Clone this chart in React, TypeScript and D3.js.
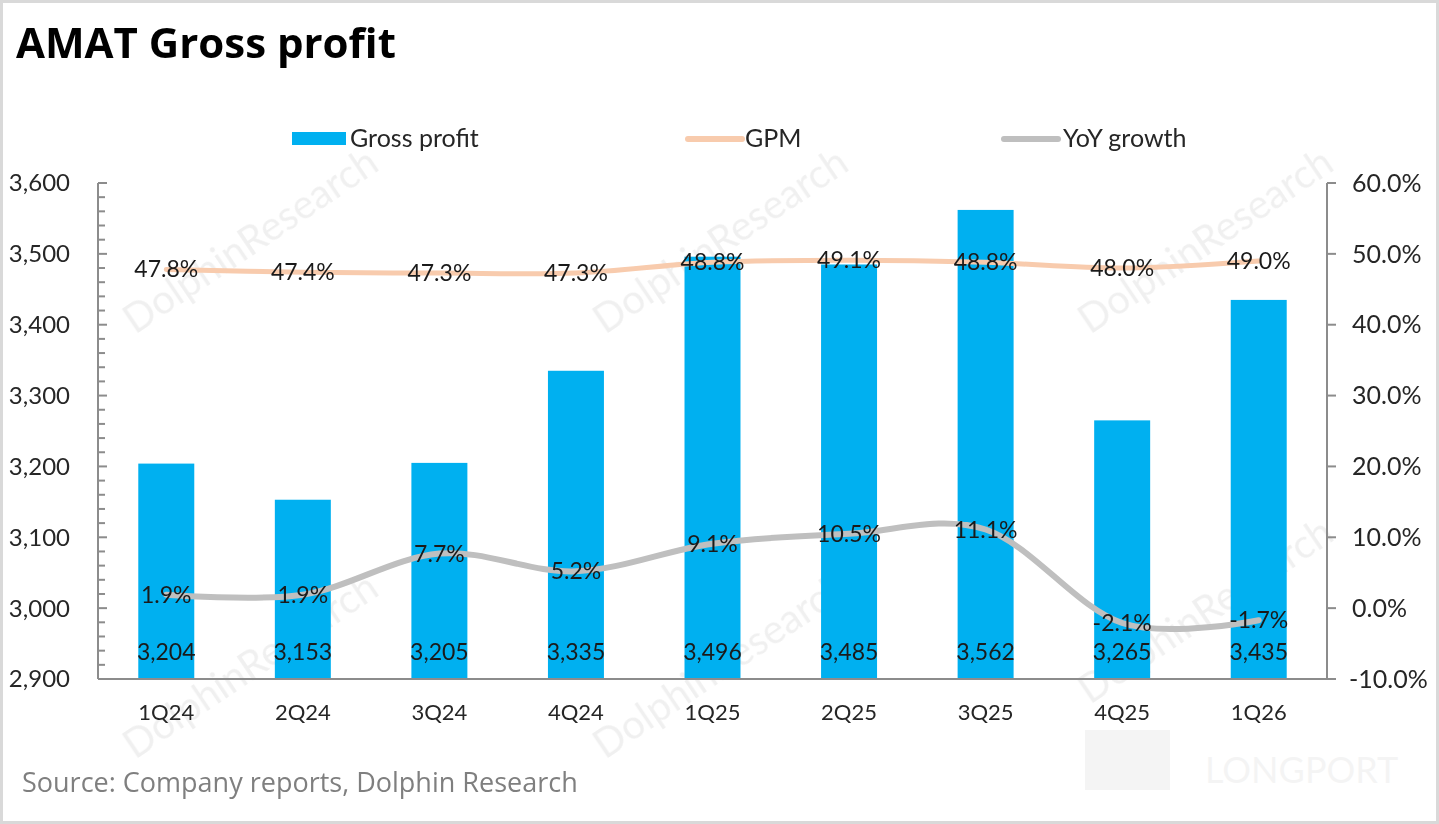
import React, { useEffect, useRef } from "react";
import * as d3 from "d3";

// chart data
const quarters = ["1Q24", "2Q24", "3Q24", "4Q24", "1Q25", "2Q25", "3Q25", "4Q25", "1Q26"];
const grossProfit = [3204, 3153, 3205, 3335, 3496, 3485, 3562, 3265, 3435];
const gpm = [0.478, 0.474, 0.473, 0.473, 0.488, 0.491, 0.488, 0.48, 0.49];
const yoyGrowth = [0.019, 0.019, 0.077, 0.052, 0.091, 0.105, 0.111, -0.021, -0.017];
const leftTicks = [2900, 3000, 3100, 3200, 3300, 3400, 3500, 3600];
const rightTicks = [-0.1, 0, 0.1, 0.2, 0.3, 0.4, 0.5, 0.6];

const W = 1439;
const H = 824;
const FONT = "Lato, 'Open Sans', sans-serif";
const pct = (d: number) => d3.format(".1%")(d).replace("\u2212", "-");

const App: React.FC = () => {
  const svgRef = useRef<SVGSVGElement | null>(null);

  useEffect(() => {
    document.body.style.margin = "0";
    const svg = d3.select(svgRef.current);
    svg.selectAll("*").remove();

    const left = 98;
    const right = 1327;
    const top = 183;
    const bottom = 679;

    const x = d3.scaleBand<string>().domain(quarters).range([left, right]).paddingInner(0.59).paddingOuter(0.295);
    const yL = d3.scaleLinear().domain([2900, 3600]).range([bottom, top]);
    const yR = d3.scaleLinear().domain([-0.1, 0.6]).range([bottom, top]);
    const cx = (q: string) => (x(q) ?? 0) + x.bandwidth() / 2;

    // background + frame
    svg.append("rect").attr("x", 0).attr("y", 0).attr("width", W).attr("height", H).attr("fill", "#fff");
    svg
      .append("rect")
      .attr("x", 1.5)
      .attr("y", 1.5)
      .attr("width", W - 3)
      .attr("height", H - 3)
      .attr("fill", "none")
      .attr("stroke", "#d9d9d9")
      .attr("stroke-width", 3);

    // watermarks
    const wm = svg.append("g").attr("fill", "#000").attr("opacity", 0.06).style("font-family", FONT).style("font-size", "40px");
    const wmPos = [
      [135, 335],
      [605, 335],
      [1090, 335],
      [135, 760],
      [605, 760],
      [1090, 705],
    ];
    wmPos.forEach(([wx, wy]) => {
      wm.append("text").attr("transform", `translate(${wx},${wy}) rotate(-34)`).text("DolphinResearch");
    });
    const lp = svg.append("g").attr("opacity", 0.04);
    lp.append("rect").attr("x", 1085).attr("y", 730).attr("width", 85).attr("height", 60).attr("fill", "#000");
    lp
      .append("text")
      .attr("x", 1205)
      .attr("y", 783)
      .attr("fill", "#000")
      .style("font-family", FONT)
      .style("font-size", "36px")
      .text("LONGPORT");

    // title
    svg
      .append("text")
      .attr("x", 16)
      .attr("y", 58)
      .attr("fill", "#000")
      .style("font-family", "'Open Sans', sans-serif")
      .style("font-weight", "bold")
      .style("font-size", "42px")
      .text("AMAT Gross profit");

    // legend
    const lg = svg.append("g").style("font-family", FONT).style("font-size", "25px").attr("fill", "#262626");
    lg.append("rect").attr("x", 292).attr("y", 132).attr("width", 54).attr("height", 13).attr("fill", "#00b0f0");
    lg.append("text").attr("x", 350).attr("y", 147).text("Gross profit");
    lg.append("line").attr("x1", 688).attr("x2", 742).attr("y1", 139).attr("y2", 139).attr("stroke", "#f8cbad").attr("stroke-width", 6).attr("stroke-linecap", "round");
    lg.append("text").attr("x", 745).attr("y", 147).text("GPM");
    lg.append("line").attr("x1", 1004).attr("x2", 1058).attr("y1", 139).attr("y2", 139).attr("stroke", "#bfbfbf").attr("stroke-width", 6).attr("stroke-linecap", "round");
    lg.append("text").attr("x", 1063).attr("y", 147).text("YoY growth");

    // bars
    svg
      .append("g")
      .selectAll("rect")
      .data(quarters)
      .join("rect")
      .attr("x", (q) => x(q) ?? 0)
      .attr("width", x.bandwidth())
      .attr("y", (_, i) => yL(grossProfit[i]))
      .attr("height", (_, i) => bottom - yL(grossProfit[i]))
      .attr("fill", "#00b0f0");

    // axes
    const axisColor = "#8c8c8c";
    const ax = svg.append("g").attr("stroke", axisColor).attr("stroke-width", 2);
    ax.append("line").attr("x1", left).attr("x2", left).attr("y1", top).attr("y2", bottom);
    ax.append("line").attr("x1", right).attr("x2", right).attr("y1", top).attr("y2", bottom);
    ax.append("line").attr("x1", left).attr("x2", right).attr("y1", bottom).attr("y2", bottom);
    const minorTicks = d3.range(2900, 3601, 20);
    ax
      .selectAll("line.lt")
      .data(minorTicks)
      .join("line")
      .attr("class", "lt")
      .attr("x1", left)
      .attr("x2", (d) => (d % 100 === 0 ? left + 9 : left + 7))
      .attr("y1", (d) => yL(d))
      .attr("y2", (d) => yL(d));
    ax
      .selectAll("line.rt")
      .data(rightTicks)
      .join("line")
      .attr("class", "rt")
      .attr("x1", right)
      .attr("x2", right + 9)
      .attr("y1", (d) => yR(d))
      .attr("y2", (d) => yR(d));

    const tickFmt = d3.format(",");
    const labels = svg.append("g").style("font-family", FONT).style("font-size", "24px").attr("fill", "#262626");
    labels
      .selectAll("text.l")
      .data(leftTicks)
      .join("text")
      .attr("class", "l")
      .attr("x", 70)
      .attr("y", (d) => yL(d))
      .attr("dy", "0.35em")
      .attr("text-anchor", "end")
      .text((d) => tickFmt(d));
    labels
      .selectAll("text.r")
      .data(rightTicks)
      .join("text")
      .attr("class", "r")
      .attr("x", (d) => (d < 0 ? 1349 : 1352))
      .attr("y", (d) => yR(d))
      .attr("dy", "0.35em")
      .style("font-size", "25px")
      .text((d) => pct(d));
    labels
      .selectAll("text.x")
      .data(quarters)
      .join("text")
      .attr("class", "x")
      .attr("x", (q) => cx(q))
      .attr("y", 712)
      .attr("dy", "0.35em")
      .attr("text-anchor", "middle")
      .style("font-size", "22px")
      .text((q) => q);

    // lines
    const curve = d3.curveCardinal.tension(0);
    const seriesLine = d3
      .line<number>()
      .x((_, i) => cx(quarters[i]))
      .y((d) => yR(d))
      .curve(curve);
    svg.append("path").attr("d", seriesLine(gpm)).attr("fill", "none").attr("stroke", "#f8cbad").attr("stroke-width", 5).attr("stroke-linecap", "round");
    svg.append("path").attr("d", seriesLine(yoyGrowth)).attr("fill", "none").attr("stroke", "#bfbfbf").attr("stroke-width", 6).attr("stroke-linecap", "round");

    // data labels
    const dl = svg.append("g").style("font-family", FONT).style("font-size", "23px").attr("fill", "#1a1a1a").attr("text-anchor", "middle");
    dl.selectAll("text.b")
      .data(grossProfit)
      .join("text")
      .attr("class", "b")
      .attr("x", (_, i) => cx(quarters[i]))
      .attr("y", bottom - 27)
      .attr("dy", "0.35em")
      .text((d) => tickFmt(d));
    dl.selectAll("text.g")
      .data(gpm)
      .join("text")
      .attr("class", "g")
      .attr("x", (_, i) => cx(quarters[i]))
      .attr("y", (d) => yR(d))
      .attr("dy", "0.35em")
      .text((d) => pct(d));
    dl.selectAll("text.y")
      .data(yoyGrowth)
      .join("text")
      .attr("class", "y")
      .attr("x", (_, i) => cx(quarters[i]))
      .attr("y", (d) => yR(d))
      .attr("dy", "0.35em")
      .text((d) => pct(d));

    // source
    svg
      .append("text")
      .attr("x", 22)
      .attr("y", 792)
      .attr("fill", "#7f7f7f")
      .style("font-family", "'Open Sans', sans-serif")
      .style("font-size", "27px")
      .text("Source: Company reports, Dolphin Research");
  }, []);

  return <svg ref={svgRef} width={W} height={H} style={{ display: "block" }} />;
};

export default App;
